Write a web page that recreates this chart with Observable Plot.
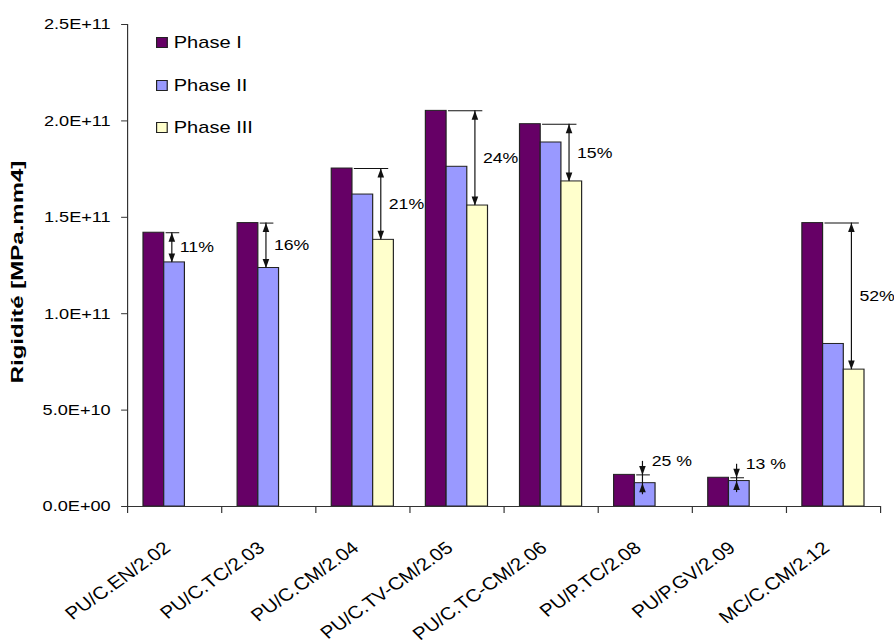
<!DOCTYPE html>
<html><head><meta charset="utf-8">
<script src="https://cdn.jsdelivr.net/npm/d3@7"></script>
<script src="https://cdn.jsdelivr.net/npm/@observablehq/plot@0.6"></script>
<style>
html,body{margin:0;padding:0;background:#fff;overflow:hidden;}
#wrap{position:relative;width:894px;height:644px;font-family:"Liberation Sans",Arial,sans-serif;color:#000;}
#chart svg{display:block;}
.ylab{position:absolute;left:18px;top:272px;font-weight:bold;font-size:16px;white-space:nowrap;transform:translate(-50%,-50%) rotate(-90deg) scaleX(1.5);}
.legend{position:absolute;left:156px;top:0;transform:scaleX(1.18);transform-origin:0 0;}
.row{position:absolute;left:0;white-space:nowrap;font-size:17px;line-height:20px;height:20px;}
.sw{display:inline-block;width:8px;height:9px;border:1px solid #222;vertical-align:0px;margin-right:5px;}
</style>
</head><body>
<div id="wrap">
  <div id="chart"></div>
  <div class="ylab">Rigidité [MPa.mm4]</div>
  <div class="legend" id="legend"></div>
</div>
<script>
// ---- data ----
const categories = ["PU/C.EN/2.02","PU/C.TC/2.03","PU/C.CM/2.04","PU/C.TV-CM/2.05","PU/C.TC-CM/2.06","PU/P.TC/2.08","PU/P.GV/2.09","MC/C.CM/2.12"];
const phaseNames = ["Phase I","Phase II","Phase III"];
const phaseColors = ["#660066","#9999ff","#ffffcc"];
const phase1 = [1.42e11, 1.47e11, 1.753e11, 2.052e11, 1.983e11, 1.64e10, 1.49e10, 1.47e11];
const phase2 = [1.266e11, 1.237e11, 1.618e11, 1.762e11, 1.888e11, 1.21e10, 1.32e10, 0.843e11];
const phase3 = [null, null, 1.383e11, 1.561e11, 1.686e11, null, null, 7.1e10];
const yTicks = [0, 5e10, 1e11, 1.5e11, 2e11, 2.5e11];
const yTickLabels = ["0.0E+00","5.0E+10","1.0E+11","1.5E+11","2.0E+11","2.5E+11"];
const dropLabels = ["11%","16%","21%","24%","15%","25 %","13 %","52%"];
const dropTo = [2,2,3,3,3,2,2,3];            // phase compared with Phase I
const arrowKind = ["inner","inner","inner","inner","inner","outer","outer","inner"];

// ---- layout (plot units; svg stretched horizontally) ----
const W = 758, H = 644, S = 894 / W;
const barOffset = 0.17, barWidth = 0.22;
const extAbove = 0.7e10, extBelow = 0.6e10;
const series = [phase1, phase2, phase3];

const rows = [];
categories.forEach((c, i) => series.forEach((arr, j) => {
  if (arr[i] != null) rows.push({i, j, phase: phaseNames[j], value: arr[i]});
}));

const ann = categories.map((c, i) => {
  const j = dropTo[i] - 1;
  const hi = phase1[i], lo = series[j][i];
  const ax = i + barOffset + j * barWidth + barWidth / 2 - 0.03;
  const outer = arrowKind[i] === "outer";
  return {
    i, hi, lo, ax, outer, label: dropLabels[i],
    cx1: i + 0.41, cx2: ax + 0.085,
    ly1: outer ? hi + extAbove : lo, ly2: outer ? lo - extBelow : hi,
    ty: outer ? hi + extAbove : (hi + lo) / 2
  };
});

const headUp = {draw(ctx){ ctx.moveTo(0,0); ctx.lineTo(2.8,9); ctx.lineTo(-2.8,9); ctx.closePath(); }};
const headDown = {draw(ctx){ ctx.moveTo(0,0); ctx.lineTo(2.8,-9); ctx.lineTo(-2.8,-9); ctx.closePath(); }};
const upHeads = ann.map(a => ({x: a.ax, y: a.outer ? a.lo : a.hi}));
const downHeads = ann.map(a => ({x: a.ax, y: a.outer ? a.hi : a.lo}));

const chart = Plot.plot({
  width: W, height: H,
  marginLeft: 127 / S, marginRight: 14 / S, marginTop: 24, marginBottom: 138,
  style: {fontFamily: "Liberation Sans, Arial, sans-serif", fontSize: "15px", color: "#000", background: "#fff"},
  x: {domain: [0, 8]},
  y: {domain: [0, 2.5e11]},
  color: {domain: phaseNames, range: phaseColors},
  marks: [
    Plot.rectY(rows, {x1: d => d.i + barOffset + d.j * barWidth, x2: d => d.i + barOffset + (d.j + 1) * barWidth,
      y1: 0, y2: "value", fill: "phase", stroke: "#222", strokeWidth: 1}),
    Plot.ruleY(ann, {y: "hi", x1: "cx1", x2: "cx2", stroke: "#111", strokeWidth: 1}),
    Plot.ruleX(ann, {x: "ax", y1: "ly1", y2: "ly2", stroke: "#111", strokeWidth: 1}),
    Plot.dot(upHeads, {x: "x", y: "y", symbol: headUp, fill: "#111", stroke: "none", r: 3}),
    Plot.dot(downHeads, {x: "x", y: "y", symbol: headDown, fill: "#111", stroke: "none", r: 3}),
    Plot.text(ann.filter(a => !a.outer), {x: "cx2", y: "ty", text: "label", textAnchor: "start", dx: 0, fontSize: 15, fill: "#000"}),
    Plot.text(ann.filter(a => a.outer), {x: "cx2", y: "ty", text: "label", textAnchor: "start", dx: 1, fontSize: 15, fill: "#000"}),
    Plot.ruleX([0], {stroke: "#333"}),
    Plot.ruleY([0], {stroke: "#333"}),
    Plot.axisY({ticks: yTicks, tickFormat: d => yTickLabels[yTicks.indexOf(d)], tickSize: 5, tickPadding: 9.3,
      fontSize: 15.4, label: null, stroke: "#333"}),
    Plot.axisX({ticks: d3.range(9), tickFormat: () => "", tickSize: 7, label: null, stroke: "#333"}),
    Plot.axisX({ticks: d3.range(8).map(i => i + 0.5), tickFormat: d => categories[Math.floor(d)],
      tickSize: 0, tickPadding: 39, tickRotate: -40, fontSize: 17.5, dx: -6, label: null})
  ]
});
chart.setAttribute("width", 894);
chart.setAttribute("height", 644);
chart.setAttribute("preserveAspectRatio", "none");
chart.style.width = "894px";
chart.style.height = "644px";
chart.style.maxWidth = "none";
document.getElementById("chart").appendChild(chart);

// legend
const legend = document.getElementById("legend");
const rowTops = [33, 76, 118];
phaseNames.forEach((p, k) => {
  const r = document.createElement("div");
  r.className = "row";
  r.style.top = rowTops[k] + "px";
  r.innerHTML = `<span class="sw" style="background:${phaseColors[k]}"></span>${p}`;
  legend.appendChild(r);
});
</script>
</body></html>
